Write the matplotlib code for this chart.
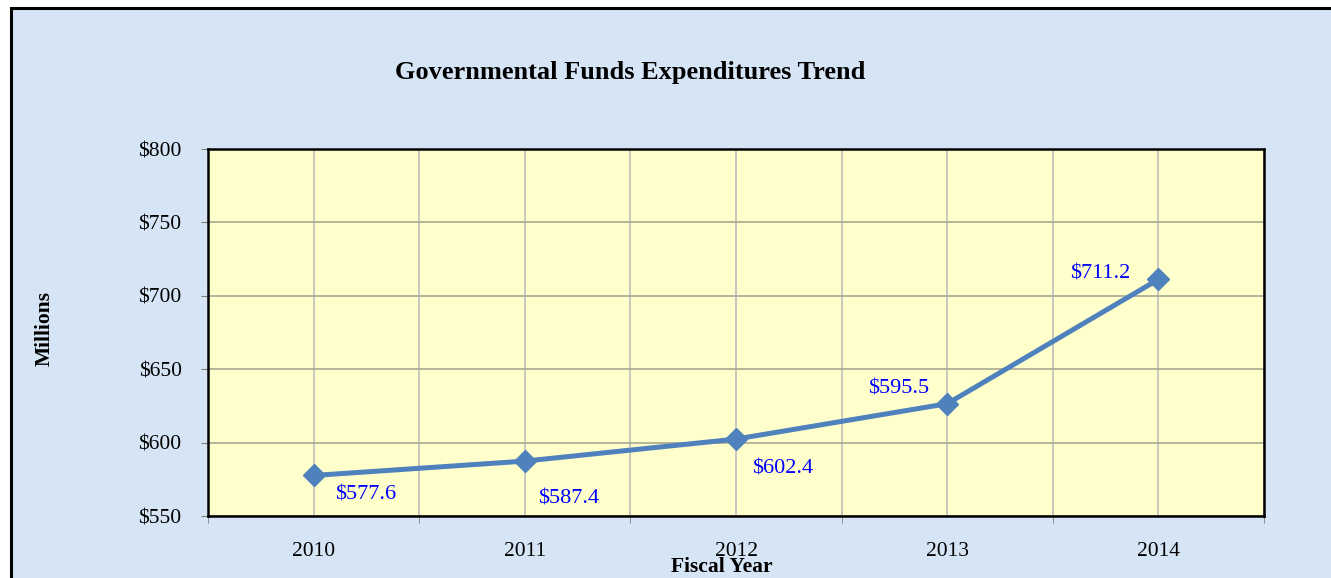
import matplotlib.pyplot as plt
from matplotlib.patches import Rectangle
from matplotlib.ticker import FixedLocator, FuncFormatter

years = ['2010', '2011', '2012', '2013', '2014']
# plotted positions and the printed data labels
values = [577.6, 587.4, 602.4, 626.5, 711.2]
labels = ['$577.6', '$587.4', '$602.4', '$595.5', '$711.2']
label_offsets = [(52, -20), (44, -38), (47, -30), (-49, 15), (-58, 5)]

plt.rcParams['font.family'] = ['Liberation Serif', 'DejaVu Serif']

W, H = 1331, 578
fig = plt.figure(figsize=(W / 100, H / 100), dpi=100, facecolor='white')

# chart frame with the pale blue backdrop (only left and top edges show)
frame = Rectangle((11 / W, -0.1), 1.0, (H - 8) / H + 0.1, transform=fig.transFigure,
                  facecolor='#D5E5F5', edgecolor='black', linewidth=2.2, zorder=-10)
fig.patches.append(frame)

ax = fig.add_axes([208 / W, (H - 516) / H, (1264 - 208) / W, (516 - 149) / H])
ax.set_facecolor('#FFFFCC')

x = list(range(len(years)))
ax.plot(x, values, color='#4F81BD', linewidth=3.6, marker='D', markersize=11,
        zorder=3, clip_on=False)

for xi, v, lab, (dx, dy) in zip(x, values, labels, label_offsets):
    ax.annotate(lab, (xi, v), xytext=(dx, dy), textcoords='offset pixels',
                ha='center', va='center', color='#0000FF', fontsize=16)

ax.set_xlim(-0.5, len(years) - 0.5)
ax.set_ylim(550, 800)
ax.set_yticks([550, 600, 650, 700, 750, 800])
ax.yaxis.set_major_formatter(FuncFormatter(lambda v, p: '${:.0f}'.format(v)))
ax.set_xticks(x)
ax.set_xticklabels(years)
ax.xaxis.set_minor_locator(FixedLocator([i - 0.5 for i in range(len(years) + 1)]))

ax.tick_params(axis='x', which='major', length=0, pad=19, labelsize=15.5)
ax.tick_params(axis='x', which='minor', length=5, color='#808080')
ax.tick_params(axis='y', length=5, pad=14, labelsize=15.5, color='#808080')

ax.grid(True, axis='x', which='both', color='#BEBEBE', linewidth=1.2)
ax.grid(True, axis='y', which='major', color='#A8A890', linewidth=1.2)
ax.set_axisbelow(True)

for s in ax.spines.values():
    s.set_linewidth(1.8)
    s.set_color('black')

fig.text(630 / W, 1 - 73 / H, 'Governmental Funds Expenditures Trend',
         ha='center', va='center', fontsize=19, fontweight='bold')
fig.text(722 / W, 1 - 567 / H, 'Fiscal Year', ha='center', va='center',
         fontsize=15.5, fontweight='bold')
fig.text(45 / W, 1 - 328 / H, 'Millions', ha='center', va='center',
         rotation=90, fontsize=15.5, fontweight='bold')

fig.savefig('out.png', dpi=100, facecolor=fig.get_facecolor())
